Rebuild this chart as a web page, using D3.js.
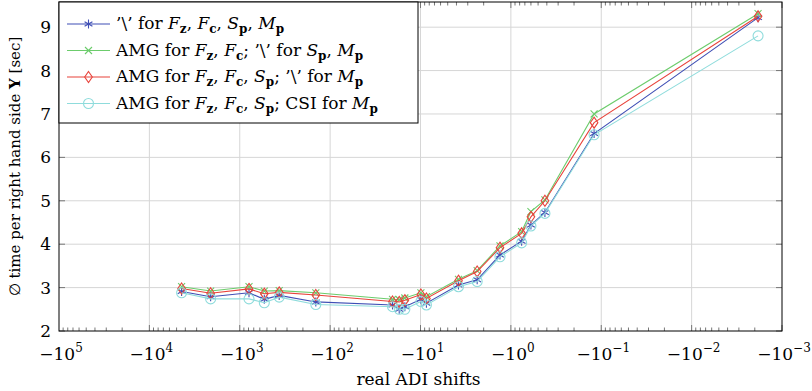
<!DOCTYPE html>
<html>
<head>
<meta charset="utf-8">
<script src="https://cdn.jsdelivr.net/npm/d3@7"></script>
<style>
  body { margin: 0; background: #fff; }
</style>
</head>
<body>
<script>
// Größe des Bildes
const width = 812;
const height = 391;
const serif = "'DejaVu Serif', 'Liberation Serif', serif";

// Daten
const shifts = [-4400, -2100, -790, -535, -366, -144, -20.4, -17.2, -14.9, -9.9, -8.6,
                -3.8, -2.36, -1.32, -0.76, -0.60, -0.42, -0.12, -0.00184];
const timeBackslash = [2.91, 2.79, 2.88, 2.73, 2.82, 2.67, 2.60, 2.50, 2.56, 2.73, 2.64,
                       3.06, 3.18, 3.75, 4.07, 4.44, 4.73, 6.55, 9.22];
const timeAmgFzFc = [3.02, 2.92, 3.02, 2.92, 2.93, 2.88, 2.73, 2.72, 2.76, 2.88, 2.79,
                     3.19, 3.39, 3.96, 4.29, 4.75, 5.02, 7.00, 9.31];
const timeAmgFzFcSp = [2.98, 2.87, 2.97, 2.86, 2.89, 2.83, 2.68, 2.67, 2.71, 2.84, 2.75,
                       3.16, 3.37, 3.92, 4.25, 4.63, 5.00, 6.80, 9.25];
const timeCsi = [2.88, 2.74, 2.74, 2.65, 2.78, 2.61, 2.56, 2.50, 2.50, 2.68, 2.60,
                 3.02, 3.14, 3.71, 4.03, 4.42, 4.71, 6.52, 8.80];
const xTickExps = [5, 4, 3, 2, 1, 0, -1, -2, -3];
const yTicks = [2, 3, 4, 5, 6, 7, 8, 9];

const series = [
  { values: timeBackslash, color: "#3f4fb5", marker: "star" },
  { values: timeAmgFzFc, color: "#6ccc6c", marker: "cross" },
  { values: timeAmgFzFcSp, color: "#e8433b", marker: "diamond" },
  { values: timeCsi, color: "#8fdcdc", marker: "circle" }
];

const margin = { left: 59, right: 30, top: 2, bottom: 60 };
const x0 = margin.left, x1 = width - margin.right;
const y0 = margin.top, y1 = height - margin.bottom;

// Skalen: log-Skala auf |x|
const x = d3.scaleLog().domain([1e5, 1e-3]).range([x0, x1]);
const y = d3.scaleLinear().domain([2, 9.58]).range([y1, y0]);
const px = v => x(Math.abs(v));

const svg = d3.select("body").append("svg")
    .attr("width", width)
    .attr("height", height)
    .attr("font-family", serif);

// Gitter
const grid = svg.append("g").attr("stroke", "#d6d6d6").attr("stroke-width", 1);
xTickExps.slice(1, -1).forEach(e => {
  grid.append("line").attr("x1", x(10 ** e)).attr("x2", x(10 ** e))
      .attr("y1", y0).attr("y2", y1);
});
yTicks.slice(1).forEach(t => {
  grid.append("line").attr("x1", x0).attr("x2", x1).attr("y1", y(t)).attr("y2", y(t));
});

// Ticks nach innen
const ticks = svg.append("g").attr("stroke", "#777").attr("stroke-width", 1);
for (let e = 5; e > -3; e--) {
  for (let m = 1; m < 10; m++) {
    const v = m * 10 ** (e - 1);
    const xx = x(v);
    const len = m === 1 ? 6 : 3.5;
    ticks.append("line").attr("x1", xx).attr("x2", xx).attr("y1", y1).attr("y2", y1 - len);
    ticks.append("line").attr("x1", xx).attr("x2", xx).attr("y1", y0).attr("y2", y0 + len);
  }
}
yTicks.forEach(t => {
  ticks.append("line").attr("x1", x0).attr("x2", x0 + 6).attr("y1", y(t)).attr("y2", y(t));
  ticks.append("line").attr("x1", x1).attr("x2", x1 - 6).attr("y1", y(t)).attr("y2", y(t));
});

// Linien
const line = d3.line().x((d, i) => px(shifts[i])).y(d => y(d));
const plot = svg.append("g");

function drawMarker(g, type, cx, cy, color) {
  if (type === "star") {
    for (let a = 0; a < 3; a++) {
      const ang = Math.PI / 2 + a * Math.PI / 3;
      g.append("line")
          .attr("x1", cx + 4.5 * Math.cos(ang)).attr("y1", cy + 4.5 * Math.sin(ang))
          .attr("x2", cx - 4.5 * Math.cos(ang)).attr("y2", cy - 4.5 * Math.sin(ang))
          .attr("stroke", color).attr("stroke-width", 1.1);
    }
  } else if (type === "cross") {
    g.append("path")
        .attr("d", `M${cx - 3.5},${cy - 3.5}L${cx + 3.5},${cy + 3.5}M${cx - 3.5},${cy + 3.5}L${cx + 3.5},${cy - 3.5}`)
        .attr("stroke", color).attr("stroke-width", 1.1).attr("fill", "none");
  } else if (type === "diamond") {
    g.append("path")
        .attr("d", `M${cx},${cy - 5.5}L${cx + 3.8},${cy}L${cx},${cy + 5.5}L${cx - 3.8},${cy}Z`)
        .attr("stroke", color).attr("stroke-width", 1.1).attr("fill", "none");
  } else {
    g.append("circle").attr("cx", cx).attr("cy", cy).attr("r", 5)
        .attr("stroke", color).attr("stroke-width", 1.1).attr("fill", "none");
  }
}

series.forEach(s => {
  plot.append("path").datum(s.values)
      .attr("d", line)
      .attr("fill", "none")
      .attr("stroke", s.color)
      .attr("stroke-width", 1.1);
  s.values.forEach((v, i) => drawMarker(plot, s.marker, px(shifts[i]), y(v), s.color));
});

// Rahmen
svg.append("rect")
    .attr("x", x0).attr("y", y0).attr("width", x1 - x0).attr("height", y1 - y0)
    .attr("fill", "none").attr("stroke", "#000").attr("stroke-width", 1);

// Achsenbeschriftungen
yTicks.forEach(t => {
  svg.append("text").attr("x", 51).attr("y", y(t) + 6)
      .attr("text-anchor", "end").attr("font-size", 17).text(t);
});
xTickExps.forEach(e => {
  const t = svg.append("text").attr("x", x(10 ** e) + 2).attr("y", y1 + 29)
      .attr("text-anchor", "middle").attr("font-size", 17);
  t.append("tspan").text("\u221210");
  t.append("tspan").attr("font-size", 12).attr("dy", -8).text(e < 0 ? "\u2212" + (-e) : e);
});

svg.append("text").attr("x", (x0 + x1) / 2 - 2).attr("y", 385)
    .attr("text-anchor", "middle").attr("font-size", 17).text("real ADI shifts");

const yl = svg.append("text")
    .attr("transform", `translate(20,${(y0 + y1) / 2}) rotate(-90)`)
    .attr("text-anchor", "middle").attr("font-size", 15);
yl.append("tspan").text("\u2205 time per right hand side ");
yl.append("tspan").attr("font-weight", "bold").text("Y");
yl.append("tspan").text(" [sec]");

// Legende
const legendItems = [
  [["t", "’\\’ for "], ["F", "z"], ["t", ", "], ["F", "c"], ["t", ", "], ["S", "p"], ["t", ", "], ["M", "p"]],
  [["t", "AMG for "], ["F", "z"], ["t", ", "], ["F", "c"], ["t", "; ’\\’ for "], ["S", "p"], ["t", ", "], ["M", "p"]],
  [["t", "AMG for "], ["F", "z"], ["t", ", "], ["F", "c"], ["t", ", "], ["S", "p"], ["t", "; ’\\’ for "], ["M", "p"]],
  [["t", "AMG for "], ["F", "z"], ["t", ", "], ["F", "c"], ["t", ", "], ["S", "p"], ["t", "; CSI for "], ["M", "p"]]
];
const lg = svg.append("g");
lg.append("rect").attr("x", x0).attr("y", y0).attr("width", 359).attr("height", 121)
    .attr("fill", "#fff").attr("stroke", "#000").attr("stroke-width", 1);
legendItems.forEach((parts, i) => {
  const ly = 24 + i * 26.5;
  const s = series[i];
  lg.append("line").attr("x1", 67).attr("x2", 110).attr("y1", ly).attr("y2", ly)
      .attr("stroke", s.color).attr("stroke-width", 1.1);
  drawMarker(lg, s.marker, 88.5, ly, s.color);
  const t = lg.append("text").attr("x", 116).attr("y", ly + 5).attr("font-size", 17);
  let shift = 0;
  parts.forEach(p => {
    if (p[0] === "t") {
      t.append("tspan").attr("dy", -shift).text(p[1]);
      shift = 0;
    } else {
      t.append("tspan").attr("dy", -shift).attr("font-style", "italic").text(p[0]);
      t.append("tspan").attr("font-weight", "bold").attr("font-size", 12).attr("dy", 4).text(p[1]);
      shift = 4;
    }
  });
});
</script>
</body>
</html>
